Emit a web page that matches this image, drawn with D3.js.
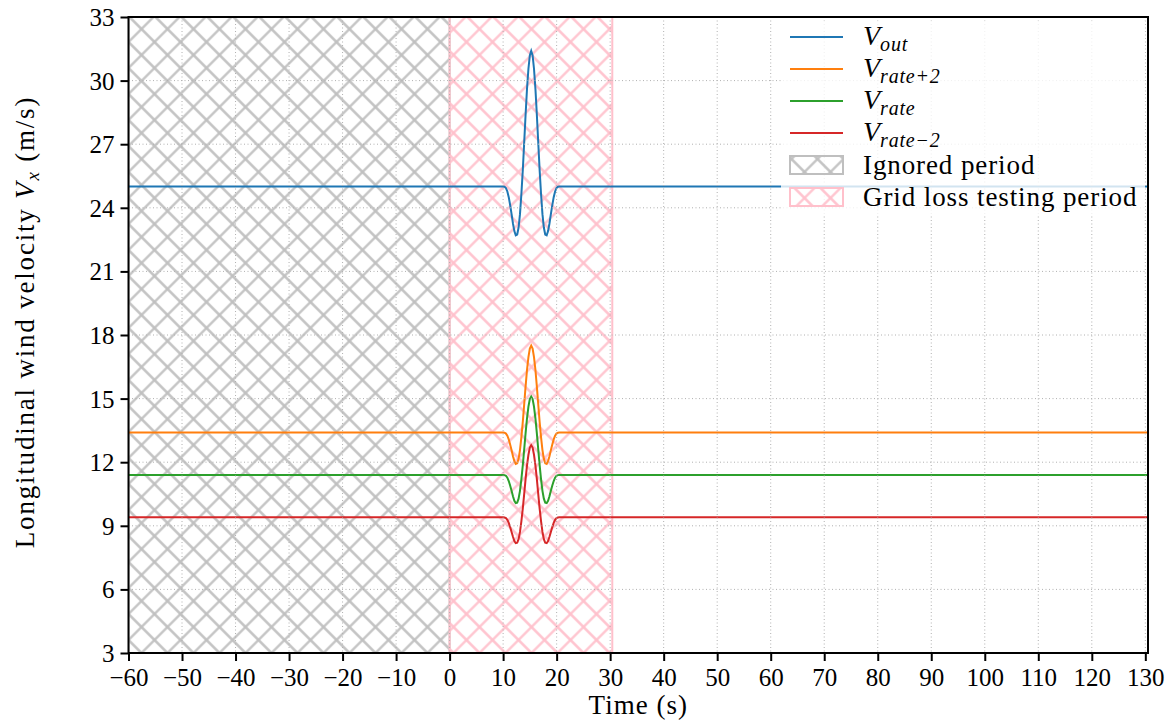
<!DOCTYPE html>
<html><head><meta charset="utf-8">
<script src="https://cdn.jsdelivr.net/npm/d3@7"></script>
<style>
body{margin:0;background:#fff}
text{font-family:"Liberation Serif","Times New Roman",serif;fill:#000}
</style>
</head><body>
<svg id="c" width="1175" height="722"></svg>
<script>
// ---- data ----
const time = [-60, 10, 10.26, 10.53, 10.79, 11.05, 11.31, 11.58, 11.84, 12.1, 12.36, 12.63, 12.89, 13.15, 13.41, 13.68, 13.94, 14.2, 14.46, 14.73, 14.99, 15.25, 15.51, 15.77, 16.04, 16.3, 16.56, 16.82, 17.09, 17.35, 17.61, 17.87, 18.14, 18.4, 18.66, 18.92, 19.19, 19.45, 19.71, 19.97, 20.24, 20.5, 130.5];
const vOut = [25, 25.00, 24.99, 24.93, 24.77, 24.50, 24.13, 23.70, 23.26, 22.90, 22.70, 22.74, 23.07, 23.70, 24.64, 25.79, 27.09, 28.40, 29.60, 30.56, 31.19, 31.40, 31.19, 30.56, 29.60, 28.40, 27.09, 25.79, 24.64, 23.70, 23.07, 22.74, 22.70, 22.90, 23.26, 23.70, 24.13, 24.50, 24.77, 24.93, 24.99, 25.00, 25];
const vRatePlus2 = [13.4, 13.40, 13.39, 13.35, 13.25, 13.08, 12.84, 12.57, 12.28, 12.05, 11.92, 11.95, 12.16, 12.57, 13.17, 13.91, 14.74, 15.58, 16.35, 16.96, 17.36, 17.50, 17.36, 16.96, 16.35, 15.58, 14.74, 13.91, 13.17, 12.57, 12.16, 11.95, 11.92, 12.05, 12.28, 12.57, 12.84, 13.08, 13.25, 13.35, 13.39, 13.40, 13.4];
const vRate = [11.4, 11.40, 11.39, 11.36, 11.27, 11.11, 10.90, 10.65, 10.39, 10.18, 10.07, 10.09, 10.28, 10.65, 11.19, 11.86, 12.61, 13.37, 14.06, 14.62, 14.98, 15.10, 14.98, 14.62, 14.06, 13.37, 12.61, 11.86, 11.19, 10.65, 10.28, 10.09, 10.07, 10.18, 10.39, 10.65, 10.90, 11.11, 11.27, 11.36, 11.39, 11.40, 11.4];
const vRateMinus2 = [9.4, 9.40, 9.39, 9.36, 9.28, 9.14, 8.94, 8.71, 8.48, 8.28, 8.18, 8.20, 8.37, 8.71, 9.21, 9.82, 10.51, 11.21, 11.84, 12.35, 12.69, 12.80, 12.69, 12.35, 11.84, 11.21, 10.51, 9.82, 9.21, 8.71, 8.37, 8.20, 8.18, 8.28, 8.48, 8.71, 8.94, 9.14, 9.28, 9.36, 9.39, 9.40, 9.4];
const seriesNames = ["out", "rate+2", "rate", "rate\u22122"];
const ignoredPeriod = [-60, 0];
const testingPeriod = [0, 30.4];
const periodNames = ["Ignored period", "Grid loss testing period"];
const xTicks = [-60, -50, -40, -30, -20, -10, 0, 10, 20, 30, 40, 50, 60, 70, 80, 90, 100, 110, 120, 130];
const yTicks = [3, 6, 9, 12, 15, 18, 21, 24, 27, 30, 33];
const xDomain = [-60, 130.5];
const yDomain = [3, 33];

// ---- chart ----
const colors = ["#1f77b4", "#ff7f0e", "#2ca02c", "#d62728"];
const hatchColors = ["#bfbfbf", "#ffc0cb"];
const L = 128.5, R = 1148, T = 17, B = 653;
const svg = d3.select("#c");
const x = d3.scaleLinear().domain(xDomain).range([L, R]);
const y = d3.scaleLinear().domain(yDomain).range([B, T]);
const FS = 25;

const defs = svg.append("defs");
defs.append("clipPath").attr("id", "clip").append("rect")
  .attr("x", L).attr("y", T).attr("width", R - L).attr("height", B - T);
const s = 26 / Math.SQRT2;
hatchColors.forEach((c, i) => {
  const p = defs.append("pattern").attr("id", "h" + i)
    .attr("patternUnits", "userSpaceOnUse").attr("width", s).attr("height", s)
    .attr("patternTransform", `translate(${L},${B}) rotate(45)`);
  p.append("path").attr("d", `M0,${s/2}H${s}M${s/2},0V${s}`)
    .attr("stroke", c).attr("stroke-width", 2.2).attr("fill", "none");
});

const plot = svg.append("g").attr("clip-path", "url(#clip)");

// hatched periods
[ignoredPeriod, testingPeriod].forEach((pr, i) => {
  plot.append("rect")
    .attr("x", x(pr[0])).attr("y", T)
    .attr("width", x(pr[1]) - x(pr[0])).attr("height", B - T)
    .attr("fill", `url(#h${i})`).attr("stroke", hatchColors[i]).attr("stroke-width", 2);
});

// grid
const grid = svg.append("g").attr("stroke", "#b0b0b0").attr("stroke-width", 1).attr("stroke-dasharray", "1,2.5");
xTicks.forEach(t => grid.append("line").attr("x1", x(t)).attr("x2", x(t)).attr("y1", T).attr("y2", B));
yTicks.forEach(t => grid.append("line").attr("x1", L).attr("x2", R).attr("y1", y(t)).attr("y2", y(t)));

// lines
const series = [vOut, vRatePlus2, vRate, vRateMinus2];
const line = d3.line().x((d, i) => x(time[i])).y(d => y(d));
series.forEach((v, k) => {
  plot.append("path").datum(v).attr("d", line)
    .attr("fill", "none").attr("stroke", colors[k]).attr("stroke-width", 2);
});

// axes
const xAxis = d3.axisBottom(x).tickValues(xTicks).tickSize(8).tickPadding(5)
  .tickFormat(d => d < 0 ? "\u2212" + Math.abs(d) : String(d));
const yAxis = d3.axisLeft(y).tickValues(yTicks).tickSize(8).tickPadding(6);
const gx = svg.append("g").attr("transform", `translate(0,${B})`).call(xAxis);
const gy = svg.append("g").attr("transform", `translate(${L},0)`).call(yAxis);
[gx, gy].forEach(g => {
  g.select(".domain").remove();
  g.selectAll(".tick line").attr("stroke", "#000").attr("stroke-width", 2);
  g.selectAll(".tick text").attr("font-size", FS).attr("font-family", "Liberation Serif");
});
gx.selectAll(".tick text").attr("dy", "0.78em");
gy.selectAll(".tick text").attr("dy", "0.34em");

// frame
svg.append("rect").attr("x", L).attr("y", T).attr("width", R - L).attr("height", B - T)
  .attr("fill", "none").attr("stroke", "#000").attr("stroke-width", 2);

// axis labels
svg.append("text").attr("x", (L + R) / 2).attr("y", 714).attr("text-anchor", "middle")
  .attr("font-size", 27).attr("letter-spacing", 1).text("Time (s)");
const yl = svg.append("text").attr("transform", `translate(34,322) rotate(-90)`)
  .attr("text-anchor", "middle").attr("font-size", 27).attr("letter-spacing", 1.8);
yl.append("tspan").text("Longitudinal wind velocity ");
yl.append("tspan").attr("font-style", "italic").text("V");
yl.append("tspan").attr("font-style", "italic").attr("font-size", 19).attr("dy", 5).text("x");
yl.append("tspan").attr("dy", -5).text(" (m/s)");

// legend
const lg = svg.append("g");
lg.append("rect").attr("x", 781).attr("y", 21).attr("width", 364).attr("height", 193)
  .attr("fill", "#fff").attr("fill-opacity", 0.8);
const rowY = k => 37 + k * 32;
series.forEach((v, k) => {
  lg.append("line").attr("x1", 790).attr("x2", 843).attr("y1", rowY(k)).attr("y2", rowY(k))
    .attr("stroke", colors[k]).attr("stroke-width", 2);
  const t = lg.append("text").attr("x", 863).attr("y", rowY(k) + 8).attr("font-size", 28);
  t.append("tspan").attr("font-style", "italic").text("V");
  t.append("tspan").attr("font-style", "italic").attr("font-size", 20).attr("letter-spacing", 0.8)
    .attr("dy", 6).text(seriesNames[k]);
});
periodNames.forEach((n, j) => {
  const k = 4 + j;
  lg.append("rect").attr("x", 790).attr("y", rowY(k) - 9).attr("width", 53).attr("height", 18)
    .attr("fill", `url(#h${j})`).attr("stroke", hatchColors[j]).attr("stroke-width", 2);
  lg.append("text").attr("x", 863).attr("y", rowY(k) + 9).attr("font-size", 27)
    .attr("letter-spacing", 0.9).text(n);
});
</script>
</body></html>
